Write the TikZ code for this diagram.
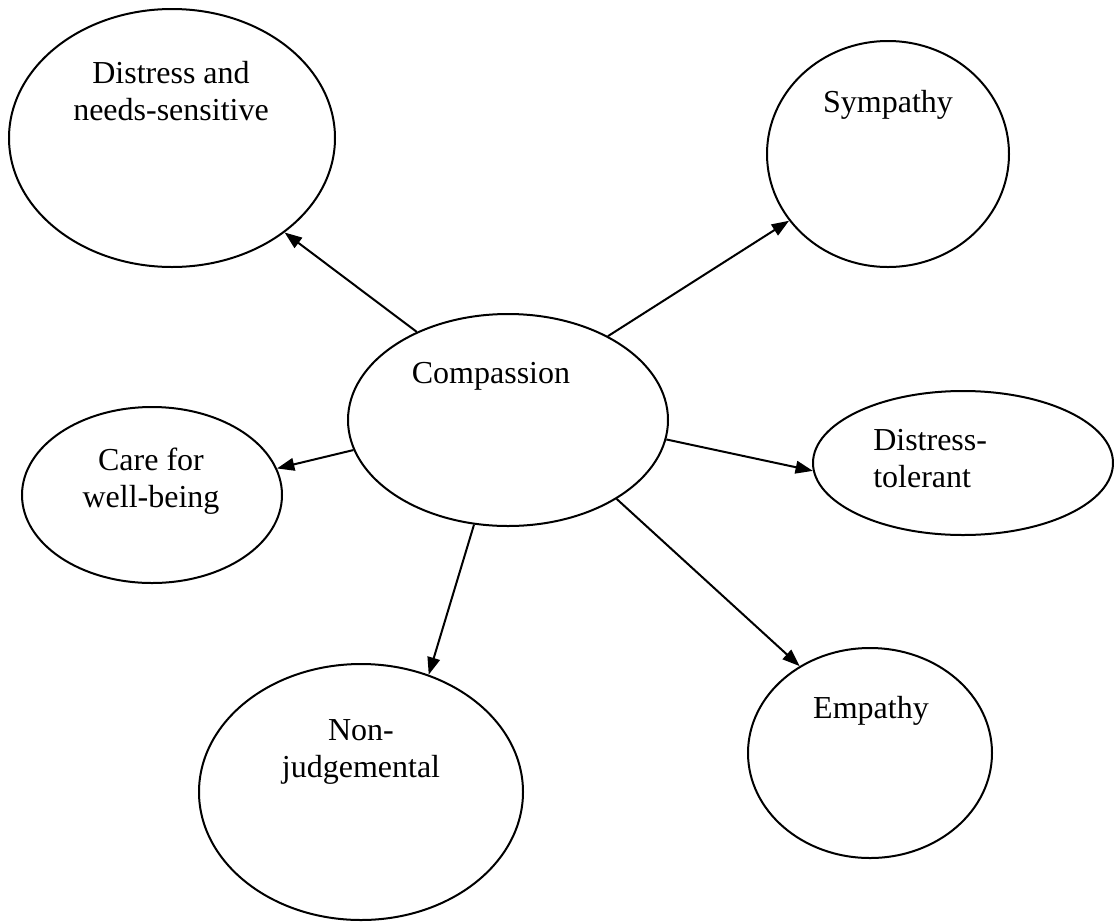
\documentclass[tikz,border=0pt]{standalone}
\usepackage{fontspec}
\setmainfont{Liberation Serif}
\usetikzlibrary{shapes.geometric,arrows.meta}
\begin{document}
\begin{tikzpicture}[x=0.75pt,y=-0.75pt,
  oval/.style 2 args={draw,ellipse,line width=1.5pt,inner sep=0pt,
    minimum width=#1*0.75pt,minimum height=#2*0.75pt},
  lbl/.style={font=\fontsize{24}{27.75}\selectfont,inner sep=0pt,align=center},
  arr/.style={line width=1.5pt,-{Triangle[length=13pt,width=9.5pt]}}]
  \fill[white] (0,0) rectangle (1114,922);
  \useasboundingbox (0,0) rectangle (1114,922);

  % ellipses
  \node[oval={326}{258}] (dist) at (172,138) {};
  \node[oval={242}{226}] (symp) at (888,154) {};
  \node[oval={320}{212}] (comp) at (508,420) {};
  \node[oval={260}{176}] (care) at (152,495) {};
  \node[oval={300}{144}] (tol)  at (963,463) {};
  \node[oval={324}{256}] (nonj) at (361,792) {};
  \node[oval={244}{210}] (emp)  at (870,753) {};

  % labels (base anchor sits on the last line)
  \node[lbl,anchor=base] (tdist) at (171,120) {Distress and\\needs-sensitive};
  \node[lbl,anchor=base] (tsymp) at (888,112) {Sympathy};
  \node[lbl,anchor=base] (tcomp) at (491,383) {Compassion};
  \node[lbl,anchor=base] (tcare) at (151,507) {Care for\\well-being};
  \node[lbl,anchor=base west,align=left] (ttol) at (873,487) {Distress-\\tolerant};
  \node[lbl,anchor=base] (tnonj) at (361,777) {Non-\\judgemental};
  \node[lbl,anchor=base] (temp)  at (871,718) {Empathy};

  % connectors
  \draw[arr] (comp.136)   -- (dist.-40);
  \draw[arr] (comp.40)    -- (symp.214);
  \draw[arr] (comp.191)   -- (care.12);
  \draw[arr] (comp.-7)    -- (tol.183);
  \draw[arr] (comp.252)   -- (nonj.60);
  \draw[arr] (comp.-36.5) -- (emp.129);
\end{tikzpicture}
\end{document}
